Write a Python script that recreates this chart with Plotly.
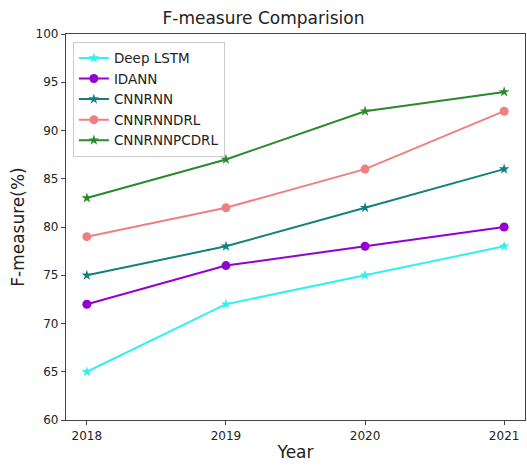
import plotly.graph_objects as go

years = [2018, 2019, 2020, 2021]
deep_lstm = [65, 72, 75, 78]
idann = [72, 76, 78, 80]
cnnrnn = [75, 78, 82, 86]
cnnrnndrl = [79, 82, 86, 92]
cnnrnnpcdrl = [83, 87, 92, 94]

series = [
    ("Deep LSTM", deep_lstm, "#33f0f0", "star"),
    ("IDANN", idann, "#9400d3", "circle"),
    ("CNNRNN", cnnrnn, "#138080", "star"),
    ("CNNRNNDRL", cnnrnndrl, "#f08080", "circle"),
    ("CNNRNNPCDRL", cnnrnnpcdrl, "#2a8a2a", "star"),
]

fig = go.Figure()
for name, vals, color, sym in series:
    fig.add_trace(go.Scatter(
        x=years, y=vals, name=name, mode="lines+markers",
        line=dict(color=color, width=2),
        marker=dict(symbol=sym, size=9 if sym == "circle" else 8, color=color),
    ))

fig.update_layout(
    width=527, height=469,
    margin=dict(l=66, r=2, t=34, b=49),
    paper_bgcolor="white", plot_bgcolor="white",
    font=dict(family="DejaVu Sans", color="#222", size=12),
    title=dict(text="F-measure Comparision", x=0.5, xanchor="center",
               y=1 - 18/469, yanchor="middle", font=dict(size=17, color="#222")),
    xaxis=dict(range=[2017.85, 2021.15], tickvals=years, ticktext=[str(y) for y in years],
               showgrid=False, zeroline=False, showline=True, linecolor="#444", linewidth=1.2,
               mirror=True, ticks="outside", ticklen=4, tickcolor="#444",
               title=dict(text="Year", font=dict(size=17), standoff=4)),
    yaxis=dict(range=[60, 100], tickvals=[60, 65, 70, 75, 80, 85, 90, 95, 100],
               showgrid=False, zeroline=False, showline=True, linecolor="#444", linewidth=1.2,
               mirror=True, ticks="outside", ticklen=4, tickcolor="#444",
               title=dict(text="F-measure(%)", font=dict(size=17), standoff=6)),
    legend=dict(x=0.015, y=0.98, xanchor="left", yanchor="top",
                bgcolor="rgba(255,255,255,0.85)", bordercolor="#ccc", borderwidth=1,
                font=dict(size=13.5), tracegroupgap=0, itemwidth=30),
    showlegend=True,
)

fig.write_html("out.html")
